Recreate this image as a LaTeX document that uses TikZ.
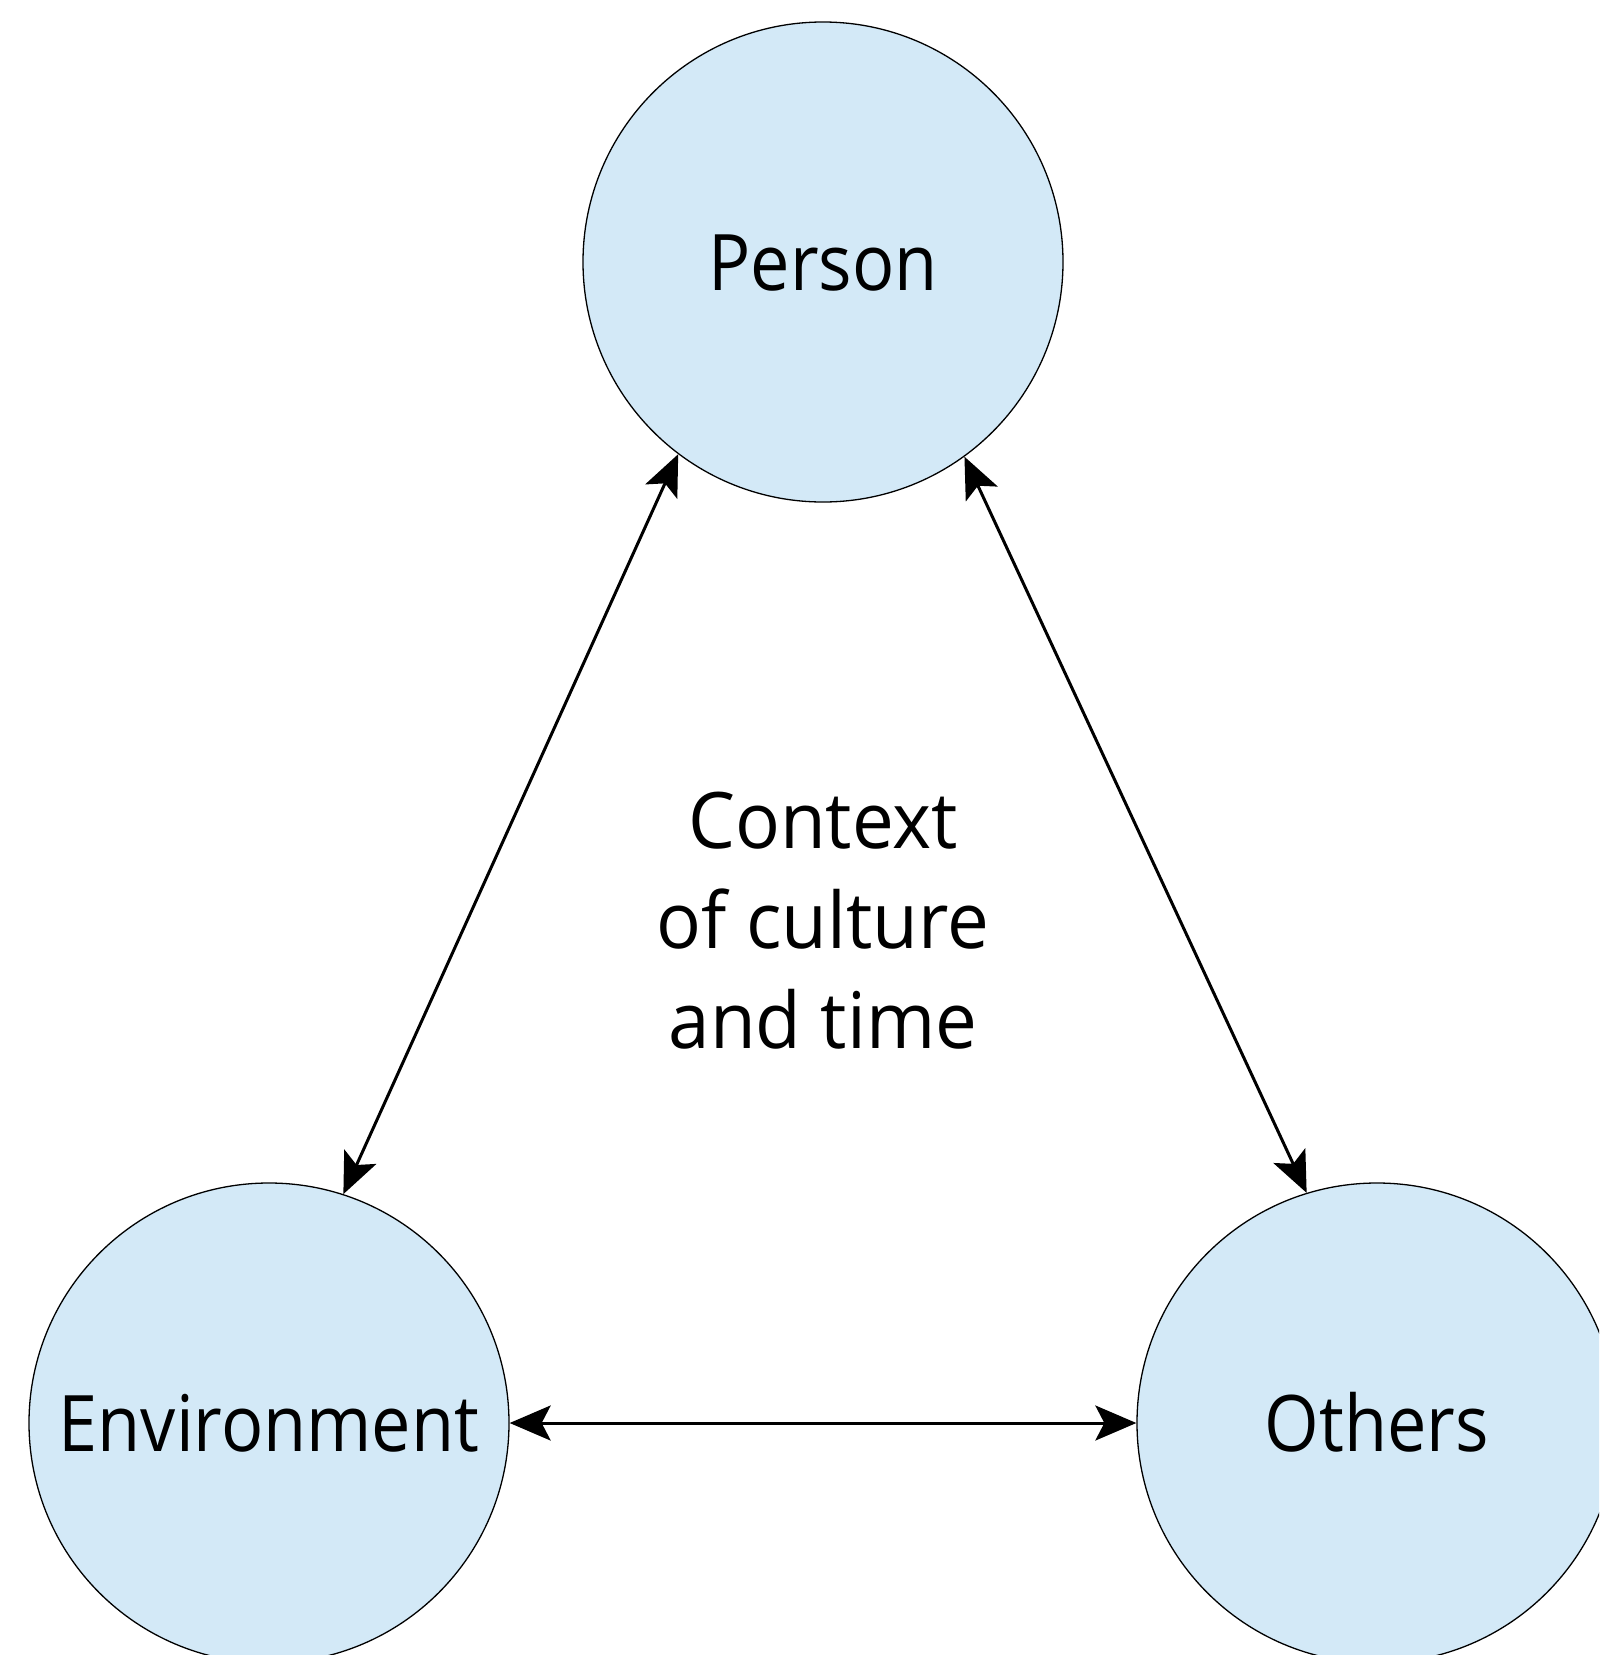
\documentclass[tikz,border=0pt]{standalone}
\usepackage{fontspec}
\setmainfont[FakeStretch=0.9]{Open Sans}
\newfontfamily\captionface[FakeStretch=0.955]{Open Sans}
\usetikzlibrary{arrows.meta}
\definecolor{bubble}{RGB}{211,233,247}
\begin{document}
\begin{tikzpicture}[x=1pt,y=-1pt,
  bubble/.style={circle, draw=black, line width=1.3pt, fill=bubble,
    minimum size=480pt, inner sep=0pt,
    font=\fontsize{78}{94}\selectfont, text height=56pt, text depth=0pt},
  link/.style={line width=3pt,
    {Stealth[length=41pt,width=35pt,inset=9pt]}-{Stealth[length=41pt,width=35pt,inset=9pt]}},
  caption/.style={align=center, font=\captionface\fontsize{78}{100}\selectfont}
]
\useasboundingbox (0,0) rectangle (1599,1655);
\clip (0,0) rectangle (1599,1655);

\node[bubble] (person) at (823,262) {Person};
\node[bubble] (env) at (269,1423) {Environment};
\node[bubble] (others) at (1377,1423) {Others};

\node[caption] (ctx) at (823,921) {Context\\of culture\\and time};

\draw[link] (person.233.1) -- (env.72.7);
\draw[link] (person.306.9) -- (others.107.3);
\draw[link] (env.east) -- (others.west);
\end{tikzpicture}
\end{document}
